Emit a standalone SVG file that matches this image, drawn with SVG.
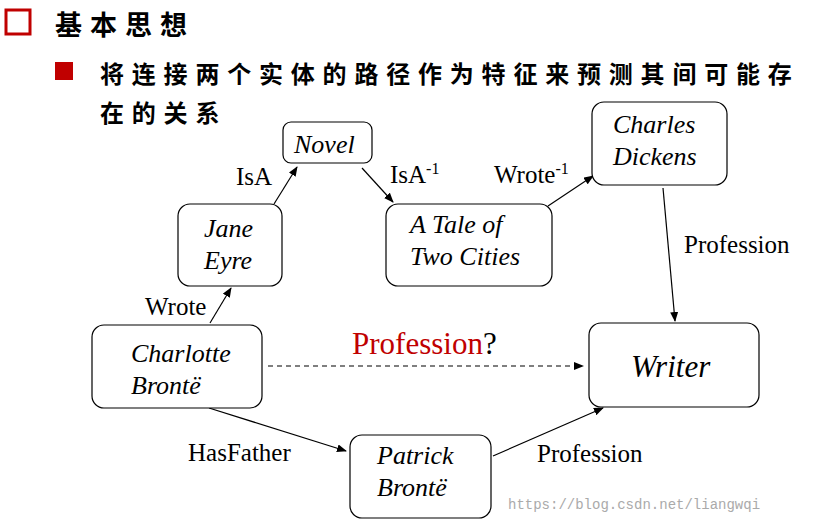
<svg xmlns="http://www.w3.org/2000/svg" width="820" height="522" viewBox="0 0 820 522">
<style>
.n{fill:#fff;stroke:#000;stroke-width:1.2}
.t{font-family:"Liberation Serif",serif;font-size:26px;font-style:italic}
.l{font-family:"Liberation Serif",serif;font-size:25px}
.c{fill:none;stroke:#000;stroke-width:1.2;marker-end:url(#a)}
.cj{font-family:"Noto Sans CJK SC",sans-serif;font-weight:bold}
</style>
<defs><marker id="a" markerWidth="10" markerHeight="8" refX="9" refY="4" orient="auto" markerUnits="userSpaceOnUse"><path d="M0,0 L10,4 L0,8 z"/></marker></defs>
<rect width="820" height="522" fill="#fff"/>
<rect x="6" y="10" width="24" height="24" fill="none" stroke="#c00000" stroke-width="3"/>
<text x="55" y="35" class="cj" font-size="27" letter-spacing="8">基本思想</text>
<rect x="55" y="62" width="18" height="18" fill="#c00000"/>
<text x="100" y="83" class="cj" font-size="24" letter-spacing="7.8">将连接两个实体的路径作为特征来预测其间可能存</text>
<text x="100" y="122" class="cj" font-size="24" letter-spacing="7.8">在的关系</text>
<g id="connectors">
<line class="c" x1="210" y1="323" x2="231" y2="288"/>
<line class="c" x1="274" y1="204" x2="297" y2="167"/>
<line class="c" x1="362" y1="168" x2="393" y2="202"/>
<line class="c" x1="548" y1="206" x2="593" y2="176"/>
<line class="c" x1="663" y1="188" x2="675" y2="321"/>
<line class="c" x1="268" y1="366" x2="583" y2="366" stroke-dasharray="5,4"/>
<line class="c" x1="209" y1="408" x2="346" y2="451"/>
<line class="c" x1="493" y1="456" x2="603" y2="408"/>
<text class="l" x="145" y="315">Wrote</text>
<text class="l" x="236" y="185">IsA</text>
<text class="l" x="390" y="183">IsA<tspan font-size="16" dy="-9">-1</tspan></text>
<text class="l" x="494" y="183">Wrote<tspan font-size="16" dy="-9">-1</tspan></text>
<text class="l" x="684" y="253">Profession</text>
<text x="352" y="354" font-family="Liberation Serif,serif" font-size="31"><tspan fill="#c00000">Profession</tspan>?</text>
<text class="l" x="188" y="461">HasFather</text>
<text class="l" x="537" y="462">Profession</text>
</g>
<g id="novel"><rect class="n" x="283" y="122" width="89" height="41" rx="8"/><text class="t" x="294" y="153">Novel</text></g>
<g id="jane"><rect class="n" x="178" y="204" width="104" height="82" rx="12"/><text class="t" x="204" y="237">Jane</text><text class="t" x="204" y="269">Eyre</text></g>
<g id="tale"><rect class="n" x="386" y="204" width="166" height="82" rx="12"/><text class="t" x="410" y="233">A Tale of</text><text class="t" x="410" y="265">Two Cities</text></g>
<g id="dickens"><rect class="n" x="592" y="102" width="135" height="83" rx="12"/><text class="t" x="613" y="133">Charles</text><text class="t" x="613" y="165">Dickens</text></g>
<g id="charlotte"><rect class="n" x="92" y="325" width="170" height="83" rx="12"/><text class="t" x="131" y="362">Charlotte</text><text class="t" x="131" y="394">Brontë</text></g>
<g id="writer"><rect class="n" x="589" y="323" width="170" height="84" rx="12"/><text class="t" x="631" y="377" style="font-size:31px">Writer</text></g>
<g id="patrick"><rect class="n" x="350" y="435" width="141" height="83" rx="12"/><text class="t" x="377" y="464">Patrick</text><text class="t" x="377" y="496">Brontë</text></g>
<text x="508" y="509" font-family="Liberation Mono,monospace" font-size="14" fill="#aaa">https://blog.csdn.net/liangwqi</text>
</svg>
